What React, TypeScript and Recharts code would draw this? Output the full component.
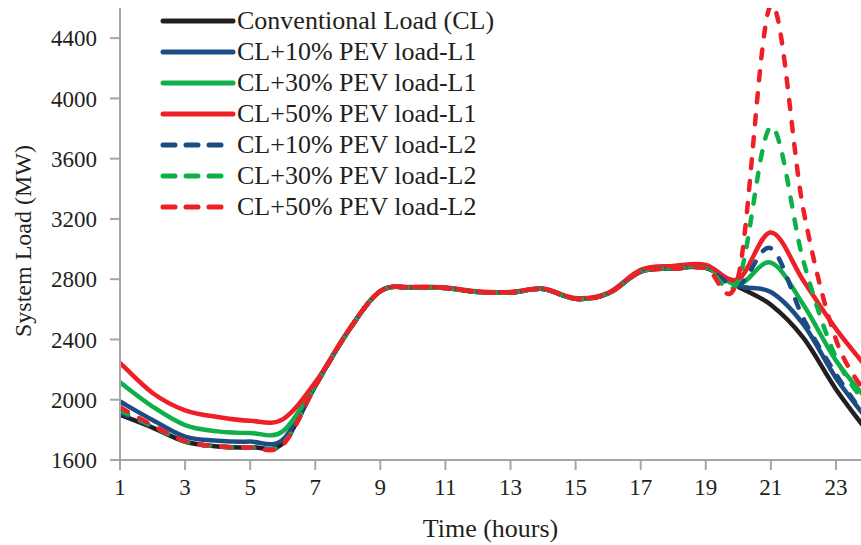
import React from "react";
import { LineChart, Line, XAxis, YAxis } from "recharts";

const HOURS = [1, 2, 3, 4, 5, 6, 7, 8, 9, 10, 11, 12, 13, 14, 15, 16, 17, 18, 19, 20, 21, 22, 23, 24];
const CL = [1900, 1815, 1722, 1690, 1685, 1710, 2090, 2450, 2720, 2745, 2742, 2715, 2712, 2735, 2670, 2705, 2850, 2870, 2875, 2750, 2630, 2410, 2070, 1780];
const L1_10 = [1988, 1865, 1755, 1728, 1722, 1735, 2095, 2450, 2720, 2745, 2742, 2715, 2712, 2735, 2670, 2705, 2850, 2872, 2878, 2755, 2715, 2500, 2145, 1860];
const L1_30 = [2115, 1955, 1832, 1790, 1780, 1790, 2100, 2452, 2720, 2745, 2742, 2715, 2712, 2735, 2670, 2705, 2852, 2875, 2880, 2765, 2910, 2630, 2260, 1990];
const L1_50 = [2245, 2045, 1930, 1885, 1860, 1870, 2115, 2455, 2722, 2748, 2745, 2718, 2715, 2738, 2675, 2710, 2862, 2888, 2895, 2800, 3110, 2790, 2470, 2200];
const L2_10 = [1915, 1820, 1722, 1690, 1685, 1705, 2090, 2450, 2720, 2745, 2742, 2715, 2712, 2735, 2670, 2705, 2850, 2870, 2875, 2760, 3005, 2540, 2170, 1860];
const L2_30 = [1930, 1825, 1723, 1690, 1685, 1705, 2090, 2450, 2720, 2745, 2742, 2715, 2712, 2735, 2670, 2705, 2850, 2870, 2875, 2790, 3810, 2920, 2280, 1950];
const L2_50 = [1950, 1830, 1725, 1690, 1683, 1700, 2090, 2450, 2720, 2745, 2742, 2715, 2712, 2735, 2670, 2705, 2850, 2870, 2875, 2820, 4620, 3260, 2400, 2020];

const X_TICKS = [1, 3, 5, 7, 9, 11, 13, 15, 17, 19, 21, 23];
const Y_TICKS = [1600, 2000, 2400, 2800, 3200, 3600, 4000, 4400];

const SERIES = [
  { key: "cl", name: "Conventional Load (CL)", values: CL, color: "#231f20", dashed: false },
  { key: "l1_10", name: "CL+10% PEV load-L1", values: L1_10, color: "#1d4c85", dashed: false },
  { key: "l1_30", name: "CL+30% PEV load-L1", values: L1_30, color: "#0fb04a", dashed: false },
  { key: "l1_50", name: "CL+50% PEV load-L1", values: L1_50, color: "#ee1f26", dashed: false },
  { key: "l2_10", name: "CL+10% PEV load-L2", values: L2_10, color: "#1d4c85", dashed: true },
  { key: "l2_30", name: "CL+30% PEV load-L2", values: L2_30, color: "#0fb04a", dashed: true },
  { key: "l2_50", name: "CL+50% PEV load-L2", values: L2_50, color: "#ee1f26", dashed: true },
];

const data = HOURS.map((h, i) => {
  const row: Record<string, number> = { hour: h };
  SERIES.forEach((s) => (row[s.key] = s.values[i]));
  return row;
});

// excel-style smoothed line (catmull-rom through the points)
function smooth(context: any) {
  let pts: number[][] = [];
  return {
    areaStart() {},
    areaEnd() {},
    lineStart() {
      pts = [];
    },
    point(x: number, y: number) {
      pts.push([+x, +y]);
    },
    lineEnd() {
      if (!pts.length) return;
      context.moveTo(pts[0][0], pts[0][1]);
      for (let i = 0; i < pts.length - 1; i++) {
        const p0 = pts[i - 1] || pts[i];
        const p1 = pts[i];
        const p2 = pts[i + 1];
        const p3 = pts[i + 2] || p2;
        const t = 1 / 6;
        context.bezierCurveTo(
          p1[0] + (p2[0] - p0[0]) * t,
          p1[1] + (p2[1] - p0[1]) * t,
          p2[0] - (p3[0] - p1[0]) * t,
          p2[1] - (p3[1] - p1[1]) * t,
          p2[0],
          p2[1]
        );
      }
    },
  };
}

const FONT = "'Liberation Serif', 'Times New Roman', serif";
const TEXT = "#231f20";
const AXIS_GRAY = "#a6a6a6";
const TICK = { fontSize: 23, fill: TEXT, fontFamily: FONT };

function LegendBox() {
  return (
    <div style={{ position: "absolute", left: 160, top: 5, fontFamily: FONT, fontSize: 26, color: TEXT }}>
      {SERIES.map((s) => (
        <div key={s.key} style={{ display: "flex", alignItems: "center", height: 31, whiteSpace: "nowrap" }}>
          <svg width={76} height={10} style={{ marginRight: 1 }}>
            <line
              x1={3}
              y1={5}
              x2={s.dashed ? 70 : 73}
              y2={5}
              stroke={s.color}
              strokeWidth={5}
              strokeLinecap="round"
              strokeDasharray={s.dashed ? "12 11" : undefined}
            />
          </svg>
          <span>{s.name}</span>
        </div>
      ))}
    </div>
  );
}

export default function App() {
  return (
    <div style={{ position: "relative", width: 861, height: 545, overflow: "hidden", background: "#fff" }}>
      <style>{"html,body{margin:0;padding:0;overflow:hidden}"}</style>
      <div style={{ position: "absolute", left: 8, top: 8 }}>
        <LineChart width={853} height={537} data={data} margin={{ top: 0, right: 0, left: 0, bottom: 0 }}>
          <XAxis
            dataKey="hour"
            type="number"
            domain={[1, 23.77]}
            allowDataOverflow
            ticks={X_TICKS}
            interval={0}
            height={85}
            tick={TICK}
            tickSize={10}
            tickMargin={9}
            axisLine={{ stroke: AXIS_GRAY, strokeWidth: 2 }}
            tickLine={{ stroke: AXIS_GRAY, strokeWidth: 2 }}
            label={{
              value: "Time (hours)",
              position: "insideBottom",
              offset: 8,
              style: { fontSize: 26, fill: TEXT, fontFamily: FONT },
            }}
          />
          <YAxis
            type="number"
            domain={[1600, 4600]}
            allowDataOverflow
            ticks={Y_TICKS}
            interval={0}
            width={112}
            tick={TICK}
            tickSize={10}
            tickMargin={13}
            axisLine={{ stroke: AXIS_GRAY, strokeWidth: 2 }}
            tickLine={{ stroke: AXIS_GRAY, strokeWidth: 2 }}
            label={{
              value: "System Load (MW)",
              angle: -90,
              position: "insideLeft",
              offset: 14,
              dy: 7,
              style: { fontSize: 24, fill: TEXT, fontFamily: FONT, textAnchor: "middle" },
            }}
          />
          {SERIES.map((s) => (
            <Line
              key={s.key}
              dataKey={s.key}
              name={s.name}
              type={smooth as any}
              stroke={s.color}
              strokeWidth={4.5}
              strokeLinecap="round"
              strokeDasharray={s.dashed ? "9 13" : undefined}
              dot={false}
              activeDot={false}
              isAnimationActive={false}
            />
          ))}
        </LineChart>
      </div>
      <LegendBox />
    </div>
  );
}
